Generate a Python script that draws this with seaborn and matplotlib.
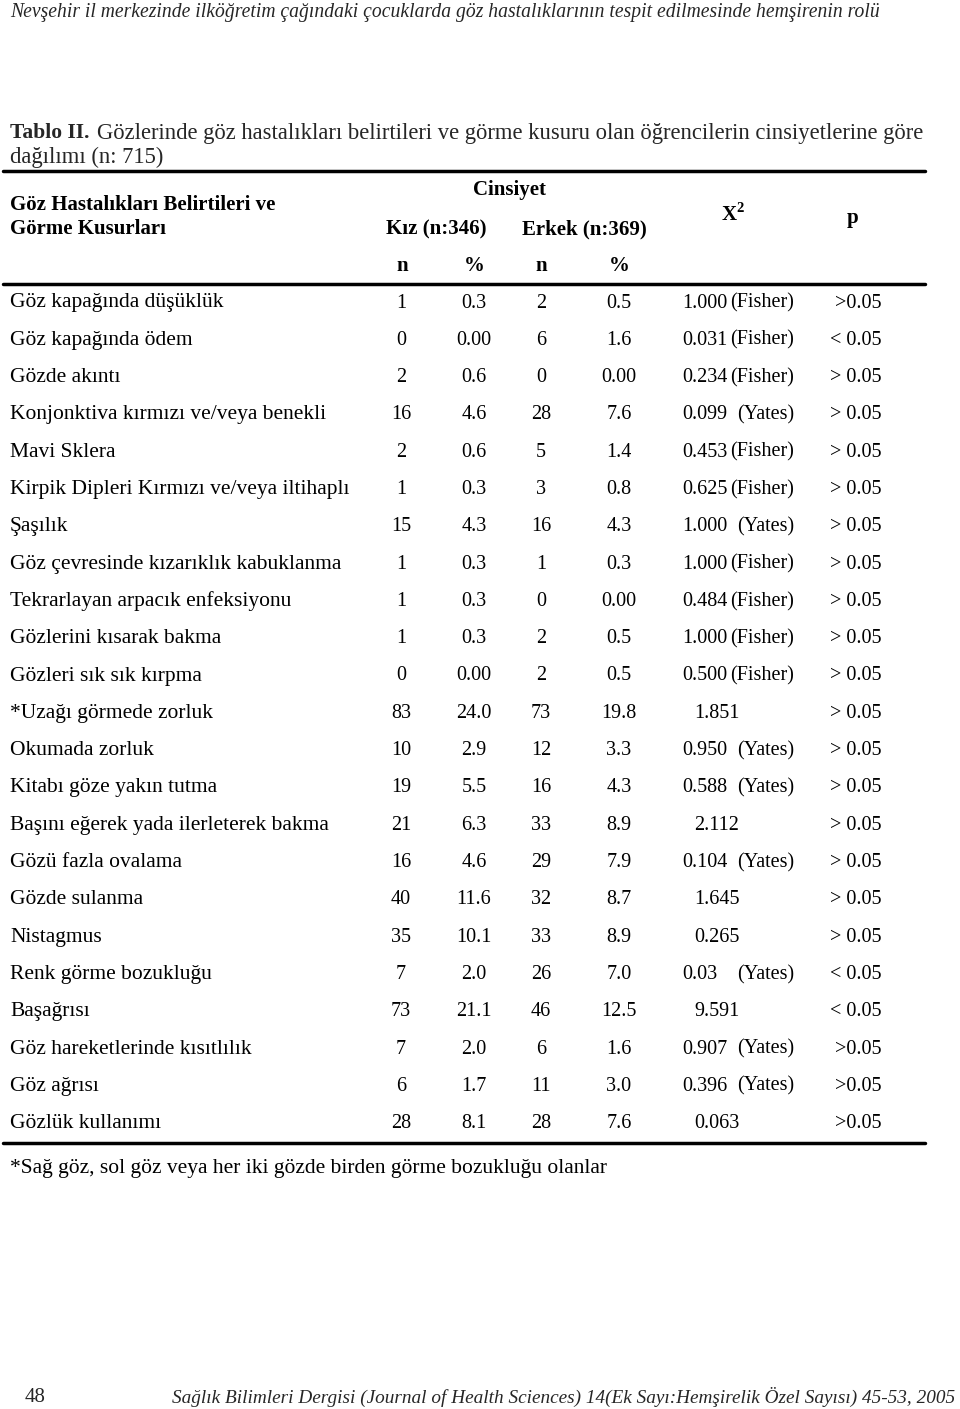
import numpy as np
import pandas as pd
import matplotlib
matplotlib.use("Agg")
import matplotlib.pyplot as plt
import seaborn as sns

# --- table values ---
symptoms = [
    "Göz kapağında düşüklük", "Göz kapağında ödem", "Gözde akıntı",
    "Konjonktiva kırmızı ve/veya benekli", "Mavi Sklera",
    "Kirpik Dipleri Kırmızı ve/veya iltihaplı", "Şaşılık",
    "Göz çevresinde kızarıklık kabuklanma", "Tekrarlayan arpacık enfeksiyonu",
    "Gözlerini kısarak bakma", "Gözleri sık sık kırpma", "*Uzağı görmede zorluk",
    "Okumada zorluk", "Kitabı göze yakın tutma",
    "Başını eğerek yada ilerleterek bakma", "Gözü fazla ovalama",
    "Gözde sulanma", "Nistagmus", "Renk görme bozukluğu", "Başağrısı",
    "Göz hareketlerinde kısıtlılık", "Göz ağrısı", "Gözlük kullanımı",
]
kiz_n = ["1", "0", "2", "16", "2", "1", "15", "1", "1", "1", "0", "83",
         "10", "19", "21", "16", "40", "35", "7", "73", "7", "6", "28"]
kiz_pct = ["0.3", "0.00", "0.6", "4.6", "0.6", "0.3", "4.3", "0.3", "0.3", "0.3",
           "0.00", "24.0", "2.9", "5.5", "6.3", "4.6", "11.6", "10.1", "2.0",
           "21.1", "2.0", "1.7", "8.1"]
erkek_n = ["2", "6", "0", "28", "5", "3", "16", "1", "0", "2", "2", "73",
           "12", "16", "33", "29", "32", "33", "26", "46", "6", "11", "28"]
erkek_pct = ["0.5", "1.6", "0.00", "7.6", "1.4", "0.8", "4.3", "0.3", "0.00",
             "0.5", "0.5", "19.8", "3.3", "4.3", "8.9", "7.9", "8.7", "8.9",
             "7.0", "12.5", "1.6", "3.0", "7.6"]
chi2 = ["1.000", "0.031", "0.234", "0.099", "0.453", "0.625", "1.000", "1.000",
        "0.484", "1.000", "0.500", "1.851", "0.950", "0.588", "2.112", "0.104",
        "1.645", "0.265", "0.03", "9.591", "0.907", "0.396", "0.063"]
test = ["Fisher", "Fisher", "Fisher", "Yates", "Fisher", "Fisher", "Yates",
        "Fisher", "Fisher", "Fisher", "Fisher", "", "Yates", "Yates", "",
        "Yates", "", "", "Yates", "", "Yates", "Yates", ""]
p_val = [">0.05", "< 0.05", "> 0.05", "> 0.05", "> 0.05", "> 0.05", "> 0.05",
         "> 0.05", "> 0.05", "> 0.05", "> 0.05", "> 0.05", "> 0.05", "> 0.05",
         "> 0.05", "> 0.05", "> 0.05", "> 0.05", "< 0.05", "< 0.05", ">0.05",
         ">0.05", ">0.05"]

df = pd.DataFrame({"symptom": symptoms, "kiz_n": kiz_n, "kiz_pct": kiz_pct,
                   "erkek_n": erkek_n, "erkek_pct": erkek_pct,
                   "chi2": chi2, "test": test, "p": p_val})

sns.set_theme(style="white")
plt.rcParams["font.family"] = ["Liberation Serif", "DejaVu Serif"]

fig = plt.figure(figsize=(9.6, 14.09), dpi=100)
ax = fig.add_axes([0, 0, 1, 1])
ax.set_xlim(0, 960)
ax.set_ylim(1409, 0)
ax.axis("off")

kw = dict(fontsize=14.5, color="black", va="center")
lab = dict(fontsize=15.5, color="black", va="center")
hdr = dict(fontsize=15, color="black", va="center", fontweight="bold")

# running header / title
ax.text(10, 13, "Nevşehir il merkezinde ilköğretim çağındaki çocuklarda göz "
        "hastalıklarının tespit edilmesinde hemşirenin rolü",
        fontsize=14.1, style="italic", va="center")
ax.text(10, 133, "Tablo II.", fontsize=15.5, fontweight="bold", va="center")
ax.text(97, 133, "Gözlerinde göz hastalıkları belirtileri ve görme kusuru olan "
        "öğrencilerin cinsiyetlerine göre", fontsize=16.3, va="center")
ax.text(10, 157, "dağılımı (n: 715)", fontsize=16.3, va="center")

# header
ax.plot([3, 925], [171, 171], color="black", lw=2.5)
ax.text(510, 190, "Cinsiyet", ha="center", **hdr)
ax.text(10, 205, "Göz Hastalıkları Belirtileri ve", **hdr)
ax.text(10, 229, "Görme Kusurları", **hdr)
ax.text(436, 229, "Kız (n:346)", ha="center", **hdr)
ax.text(584, 229, "Erkek (n:369)", ha="center", **hdr)
ax.text(733, 215, "X$^{\\mathregular{2}}$", ha="center", **hdr)
ax.text(853, 218, "p", ha="center", **hdr)
for x, s in zip([402, 474, 541, 619], ["n", "%", "n", "%"]):
    ax.text(x, 266, s, ha="center", **hdr)
ax.plot([3, 925], [284, 284], color="black", lw=2.5)

# body rows
y0, step = 303, 37.3
for i, r in df.iterrows():
    y = y0 + i * step
    ax.text(10, y, r["symptom"], **lab)
    ax.text(401, y, r["kiz_n"], ha="center", **kw)
    ax.text(474, y, r["kiz_pct"], ha="center", **kw)
    ax.text(541, y, r["erkek_n"], ha="center", **kw)
    ax.text(619, y, r["erkek_pct"], ha="center", **kw)
    if r["test"]:
        ax.text(682, y, r["chi2"], ha="left", **kw)
        ax.text(794, y, "(" + r["test"] + ")", ha="right", **kw)
    else:
        ax.text(717, y, r["chi2"], ha="center", **kw)
    ax.text(881, y, r["p"], ha="right", **kw)

y_end = y0 + (len(df) - 1) * step
ax.plot([3, 925], [y_end + 19, y_end + 19], color="black", lw=2.5)
ax.text(10, y_end + 45, "*Sağ göz, sol göz veya her iki gözde birden görme "
        "bozukluğu olanlar", **lab)

# footer
ax.text(25, 1397, "48", fontsize=15, va="center")
ax.text(955, 1397, "Sağlık Bilimleri Dergisi (Journal of Health Sciences) "
        "14(Ek Sayı:Hemşirelik Özel Sayısı) 45-53, 2005",
        fontsize=13.9, style="italic", ha="right", va="center")

fig.savefig("out.png", dpi=100)
